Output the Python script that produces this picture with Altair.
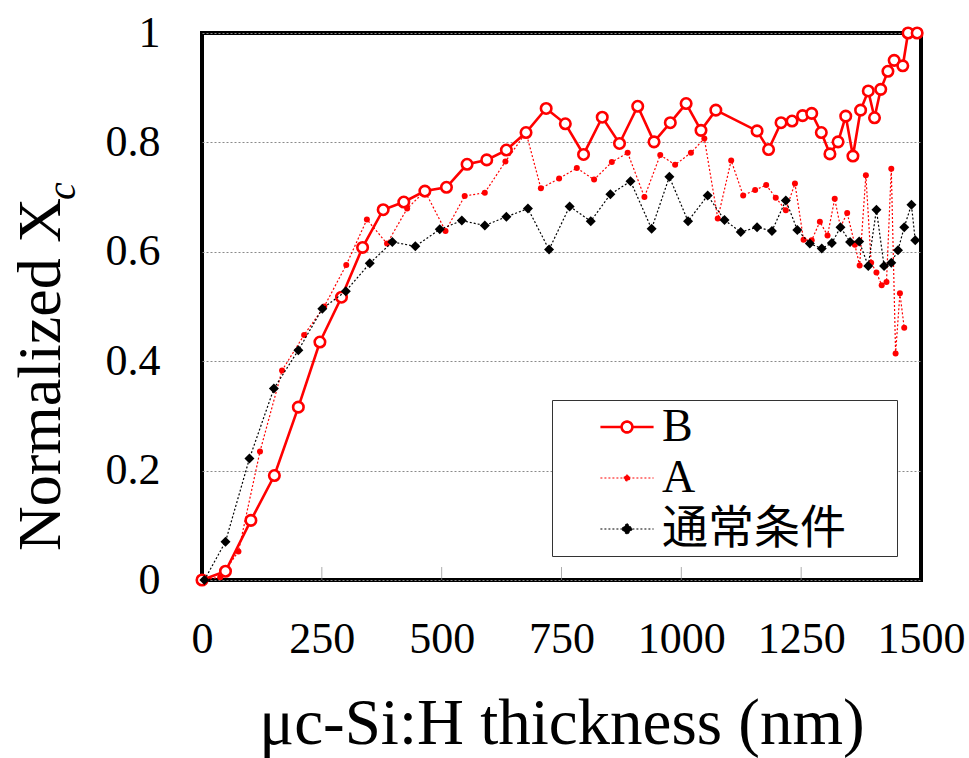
import altair as alt
import pandas as pd

# ---------------- data ----------------
SERIES = ["B", "A", "通常条件"]

B_x = [0, 49, 102, 151, 201, 246, 291, 335, 378, 421, 465, 510, 553, 594, 635, 676,
       718, 758, 796, 835, 871, 909, 943, 977, 1010, 1041, 1072, 1158, 1182, 1208,
       1231, 1253, 1272, 1292, 1310, 1327, 1343, 1358, 1374, 1390, 1403, 1416, 1431,
       1444, 1462, 1473, 1492]
B_y = [0, 0.016, 0.109, 0.191, 0.316, 0.435, 0.517, 0.608, 0.677, 0.691, 0.711, 0.718,
       0.760, 0.768, 0.786, 0.818, 0.862, 0.834, 0.778, 0.846, 0.798, 0.866, 0.801,
       0.836, 0.871, 0.822, 0.859, 0.821, 0.787, 0.836, 0.839, 0.849, 0.853, 0.818,
       0.779, 0.801, 0.848, 0.775, 0.859, 0.894, 0.845, 0.897, 0.930, 0.950, 0.940,
       1.0, 1.0]

A_x = [0, 38, 76, 121, 167, 213, 255, 301, 344, 386, 428, 465, 508, 548, 590, 633,
       676, 707, 745, 782, 818, 855, 888, 923, 956, 987, 1020, 1048, 1076, 1104, 1129,
       1154, 1177, 1197, 1218, 1237, 1255, 1272, 1289, 1305, 1320, 1332, 1346, 1362,
       1372, 1385, 1396, 1407, 1418, 1428, 1438, 1447, 1456, 1465]
A_y = [0, 0.005, 0.052, 0.235, 0.383, 0.448, 0.500, 0.576, 0.659, 0.615, 0.679, 0.711,
       0.638, 0.702, 0.708, 0.765, 0.818, 0.716, 0.734, 0.753, 0.732, 0.764, 0.781,
       0.700, 0.777, 0.759, 0.781, 0.807, 0.661, 0.767, 0.703, 0.713, 0.722, 0.699,
       0.676, 0.725, 0.622, 0.621, 0.655, 0.630, 0.697, 0.645, 0.671, 0.613, 0.575,
       0.740, 0.580, 0.562, 0.539, 0.545, 0.752, 0.414, 0.524, 0.461]

N_x = [5, 49, 99, 150, 201, 251, 300, 350, 397, 445, 496, 542, 590, 635, 680, 724,
       767, 811, 852, 894, 938, 975, 1014, 1055, 1090, 1124, 1158, 1189, 1218, 1242,
       1268, 1293, 1314, 1332, 1352, 1371, 1390, 1407, 1423, 1438, 1452, 1465, 1480,
       1488]
N_y = [0, 0.070, 0.222, 0.350, 0.420, 0.496, 0.528, 0.579, 0.618, 0.610, 0.641, 0.657,
       0.648, 0.664, 0.679, 0.604, 0.683, 0.656, 0.705, 0.729, 0.642, 0.737, 0.656,
       0.703, 0.658, 0.636, 0.645, 0.638, 0.694, 0.640, 0.615, 0.606, 0.616, 0.645,
       0.618, 0.619, 0.574, 0.677, 0.574, 0.580, 0.603, 0.645, 0.686, 0.621]

X_TICKS = [0, 250, 500, 750, 1000, 1250, 1500]
Y_TICKS = [0, 0.2, 0.4, 0.6, 0.8, 1]
X_TITLE = "μc-Si:H thickness (nm)"
Y_TITLE_MAIN = ["Normalized X"]
Y_TITLE_SUB = ["c"]

# ---------------- table ----------------
rows = []
for name, xs, ys in [("B", B_x, B_y), ("A", A_x, A_y), ("通常条件", N_x, N_y)]:
    for i, (xv, yv) in enumerate(zip(xs, ys)):
        rows.append({"series": name, "x": xv, "y": yv, "order": i})
df = pd.DataFrame(rows)

W, H = 719, 547
FONT = "Liberation Serif"
LEG_FONT = "Liberation Serif, Noto Sans CJK JP"

xscale = alt.Scale(domain=[0, 1500], nice=False, zero=False)
yscale = alt.Scale(domain=[0, 1], nice=False)

x_axis = alt.Axis(values=X_TICKS, format="d", title=X_TITLE, grid=False, domain=False,
                  ticks=False, tickSize=0, labelFont=FONT, labelFontSize=44,
                  labelColor="black", labelPadding=72, labelBaseline="alphabetic",
                  labelFlush=False, labelOverlap=False, titleFont=FONT, titleFontSize=65,
                  titleFontWeight="normal", titleColor="black", titleX=W / 2,
                  titleY=163, titleAlign="center", titleBaseline="alphabetic")
y_axis = alt.Axis(values=Y_TICKS, format="~g", title=None, grid=True, gridColor="#8a8a8a",
                  gridDash=[2, 2], gridWidth=1, domain=False, ticks=False, tickSize=0,
                  labelFont=FONT, labelFontSize=44, labelColor="black", labelPadding=42,
                  labelFlush=False, labelOverlap=False)

base = alt.Chart(df).encode(
    x=alt.X("x:Q", scale=xscale, axis=x_axis),
    y=alt.Y("y:Q", scale=yscale, axis=y_axis),
    order="order:Q",
)

def sel(name):
    return base.transform_filter(alt.datum.series == name)

lineA = sel("A").mark_line(color="red", strokeWidth=1.2, strokeDash=[2, 2])
pointA = sel("A").mark_point(shape="circle", filled=True, color="red", size=36, opacity=1)
lineB = sel("B").mark_line(color="red", strokeWidth=2.6)
pointB = sel("B").mark_point(shape="circle", filled=True, fill="white", stroke="red",
                             strokeWidth=2.6, size=110, opacity=1)
lineN = sel("通常条件").mark_line(color="black", strokeWidth=1.2, strokeDash=[2, 2])
pointN = sel("通常条件").mark_point(shape="diamond", filled=True, color="black", size=100,
                                  opacity=1)

ticks = alt.Chart(pd.DataFrame({"x": X_TICKS[1:-1]})).mark_tick(
    orient="vertical", color="#8a8a8a", size=13, thickness=1
).encode(x=alt.X("x:Q", scale=xscale), y=alt.value(H - 6.5))

# legend symbols (line + marker) as custom shapes; unit = sqrt(1600)/2 = 20 px
PATH_B = ("M-1.33,0L-0.27,0M0.27,0L1.33,0M0.27,0A0.27,0.27,0,1,1,-0.27,0"
          "A0.27,0.27,0,1,1,0.27,0Z")
PATH_A = "M-1.33,0L1.33,0M0.14,0A0.14,0.14,0,1,1,-0.14,0A0.14,0.14,0,1,1,0.14,0Z"
PATH_N = "M-1.33,0L1.33,0M0,-0.27L0.27,0L0,0.27L-0.27,0Z"

def leg():
    # an invisible title placed to the right widens the legend box
    return alt.Legend(title="\u00a0", titleOrient="right", titlePadding=47)

legend_layer = alt.Chart(df).transform_filter("false").mark_point(
    filled=True, opacity=1, size=1600
).encode(
    shape=alt.Shape("series:N", scale=alt.Scale(domain=SERIES, range=[PATH_B, PATH_A, PATH_N]),
                    legend=leg()),
    stroke=alt.Stroke("series:N", scale=alt.Scale(domain=SERIES, range=["red", "red", "black"]),
                      legend=leg()),
    fill=alt.Fill("series:N", scale=alt.Scale(domain=SERIES, range=["white", "red", "black"]),
                  legend=leg()),
    strokeDash=alt.StrokeDash("series:N",
                              scale=alt.Scale(domain=SERIES, range=[[1, 0], [2, 2], [2, 2]]),
                              legend=leg()),
    strokeWidth=alt.StrokeWidth("series:N",
                                scale=alt.Scale(type="ordinal", domain=SERIES,
                                                range=[2.6, 1.2, 1.2]),
                                legend=leg()),
)

title_main = alt.Chart(pd.DataFrame({"t": Y_TITLE_MAIN})).mark_text(
    angle=270, align="right", baseline="alphabetic", font=FONT, fontSize=62, color="black"
).encode(text="t:N", x=alt.value(-142), y=alt.value(165))
title_sub = alt.Chart(pd.DataFrame({"t": Y_TITLE_SUB})).mark_text(
    angle=270, align="left", baseline="alphabetic", font=FONT, fontSize=40,
    fontStyle="italic", color="black"
).encode(text="t:N", x=alt.value(-127), y=alt.value(167))

chart = alt.layer(
    ticks, lineA, pointA, lineB, pointB, lineN, pointN, legend_layer, title_main, title_sub
).properties(
    width=W, height=H,
    autosize=alt.AutoSizeParams(type="none"),
    padding={"left": 202, "top": 33, "right": 48, "bottom": 178},
).configure_view(
    stroke="black", strokeWidth=4
).configure_legend(
    orient="none", legendX=350, legendY=367, padding=4, fillColor="white",
    strokeColor="#333333", labelFont=LEG_FONT, labelFontSize=46, labelColor="black",
    labelLimit=400, symbolOffset=48, labelOffset=12, rowPadding=5, symbolSize=1600,
    titleFont=FONT, titleFontSize=12,
)

chart.save("out.html", embed_options={"renderer": "svg", "actions": False})
